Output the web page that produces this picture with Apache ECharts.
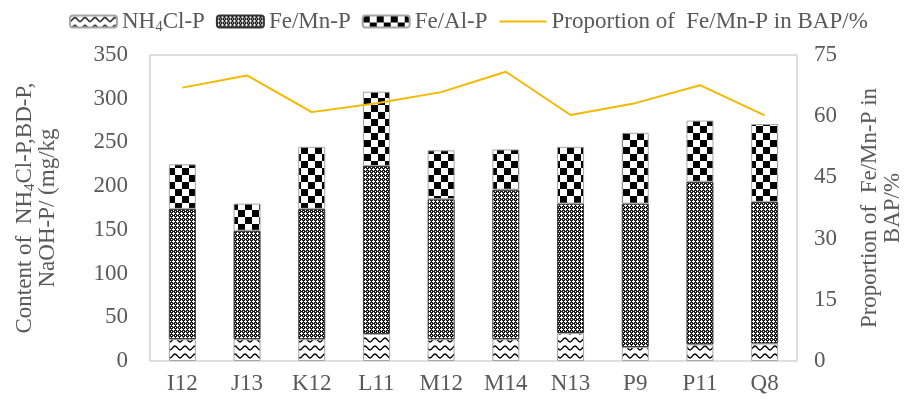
<!DOCTYPE html>
<html>
<head>
<meta charset="utf-8">
<script src="https://cdn.jsdelivr.net/npm/echarts@6/dist/echarts.min.js"></script>
<style>
  html, body { margin: 0; padding: 0; background: #fff; }
  #chart { width: 912px; height: 400px; }
</style>
</head>
<body>
<div id="chart"></div>
<script>
// Sampling sites
var sites = ['I12', 'J13', 'K12', 'L11', 'M12', 'M14', 'N13', 'P9', 'P11', 'Q8'];
// Phosphorus fractions, mg/kg
var nh4clP = [25, 25, 25, 31, 25, 25, 32, 16, 19, 20];
var feMnP  = [149, 124, 149, 192, 160, 171, 148, 164, 186, 162];
var feAlP  = [51, 31, 71, 85, 56, 46, 65, 81, 70, 89];
// Share of Fe/Mn-P in bio-available P, %
var feMnShare = [67.0, 70.0, 61.0, 63.2, 65.9, 70.9, 60.3, 63.2, 67.6, 60.2];
// Axis ticks
var leftTicks = [0, 50, 100, 150, 200, 250, 300, 350];
var rightTicks = [0, 15, 30, 45, 60, 75];

var serif = 'Liberation Serif';
var grey = '#595959';
var fs = 23;

// Fill textures for the stacked bars
function makeTile(w, h, draw) {
  var c = document.createElement('canvas');
  c.width = w; c.height = h;
  var ctx = c.getContext('2d');
  draw(ctx, w, h);
  return c;
}
var waveTile = makeTile(10, 8, function (ctx, w, h) {
  ctx.fillStyle = '#fff'; ctx.fillRect(0, 0, w, h);
  ctx.strokeStyle = '#000'; ctx.lineWidth = 1.4;
  ctx.beginPath();
  ctx.moveTo(-0.5, 6);
  ctx.bezierCurveTo(2, 6, 3, 2, 5, 2);
  ctx.bezierCurveTo(7, 2, 8, 6, 10.5, 6);
  ctx.stroke();
});
var meshTile = makeTile(4, 4, function (ctx, w, h) {
  ctx.fillStyle = '#1a1a1a'; ctx.fillRect(0, 0, w, h);
  ctx.fillStyle = '#fff';
  ctx.fillRect(1, 0, 1, 1);
  ctx.fillRect(0, 1, 3, 1);
  ctx.fillRect(1, 2, 1, 1);
  ctx.fillRect(3, 3, 1, 1);
});
var checkTile = makeTile(14, 14, function (ctx, w, h) {
  ctx.fillStyle = '#fff'; ctx.fillRect(0, 0, w, h);
  ctx.fillStyle = '#000';
  ctx.fillRect(0, 0, 7, 7);
  ctx.fillRect(7, 7, 7, 7);
});

function pattern(tile) { return { image: tile, repeat: 'repeat' }; }

var lineName = 'Proportion of  Fe/Mn-P in BAP/%';

var chart = echarts.init(document.getElementById('chart'), null, { renderer: 'canvas' });

var option = {
  animation: false,
  backgroundColor: '#fff',
  textStyle: { fontFamily: serif },
  legend: {
    top: 5,
    left: 64,
    itemWidth: 47,
    itemHeight: 12,
    itemGap: 11,
    data: ['NH4Cl-P', 'Fe/Mn-P', 'Fe/Al-P', { name: lineName, itemStyle: { opacity: 0 } }],
    formatter: function (name) {
      if (name === 'NH4Cl-P') return '{a|NH}{s|4}{a|Cl-P}';
      return '{a|' + name + '}';
    },
    textStyle: {
      color: grey,
      fontFamily: serif,
      rich: {
        a: { fontSize: fs, fontFamily: serif, color: grey },
        s: { fontSize: 15, fontFamily: serif, color: grey, padding: [11, 0, 0, 0] }
      }
    }
  },
  grid: {
    left: 150, right: 106, top: 55, bottom: 39,
    show: true, borderColor: '#bfbfbf', borderWidth: 1
  },
  xAxis: {
    type: 'category',
    data: sites,
    axisLine: { show: false },
    axisTick: { show: false },
    axisLabel: { color: grey, fontSize: fs, fontFamily: serif, margin: 11 }
  },
  yAxis: [
    {
      type: 'value',
      min: leftTicks[0],
      max: leftTicks[leftTicks.length - 1],
      interval: leftTicks[1] - leftTicks[0],
      splitLine: { show: false },
      axisLine: { show: false },
      axisTick: { show: false },
      axisLabel: { color: grey, fontSize: fs, fontFamily: serif, margin: 22 },
      name: '{a|Content of  NH}{s|4}{a|Cl-P,BD-P,}\n{a|NaOH-P/ (mg/kg}',
      nameLocation: 'middle',
      nameRotate: 90,
      nameGap: 91,
      nameTextStyle: {
        lineHeight: 23,
        rich: {
          a: { fontSize: fs, fontFamily: serif, color: grey, lineHeight: 23 },
          s: { fontSize: 15, fontFamily: serif, color: grey, padding: [11, 0, 0, 0], lineHeight: 23 }
        }
      }
    },
    {
      type: 'value',
      min: rightTicks[0],
      max: rightTicks[rightTicks.length - 1],
      interval: rightTicks[1] - rightTicks[0],
      splitLine: { show: false },
      axisLine: { show: false },
      axisTick: { show: false },
      axisLabel: { color: grey, fontSize: fs, fontFamily: serif, margin: 17 },
      name: 'Proportion of  Fe/Mn-P in\nBAP/%',
      nameLocation: 'middle',
      nameRotate: 90,
      nameGap: 61,
      nameTextStyle: { color: grey, fontSize: fs, fontFamily: serif, lineHeight: 23 }
    }
  ],
  series: [
    {
      name: 'NH4Cl-P', type: 'bar', stack: 'p', barWidth: 27,
      data: nh4clP,
      itemStyle: { color: pattern(waveTile), borderColor: '#a6a6a6', borderWidth: 1 }
    },
    {
      name: 'Fe/Mn-P', type: 'bar', stack: 'p', barWidth: 27,
      data: feMnP,
      itemStyle: { color: pattern(meshTile), borderColor: '#333', borderWidth: 1 }
    },
    {
      name: 'Fe/Al-P', type: 'bar', stack: 'p', barWidth: 27,
      data: feAlP,
      itemStyle: { color: pattern(checkTile), borderColor: '#a6a6a6', borderWidth: 1 }
    },
    {
      name: lineName, type: 'line', yAxisIndex: 1,
      data: feMnShare,
      symbol: 'none',
      lineStyle: { color: '#f5b800', width: 2 },
      itemStyle: { color: '#f5b800' }
    }
  ]
};
chart.setOption(option);
</script>
</body>
</html>
